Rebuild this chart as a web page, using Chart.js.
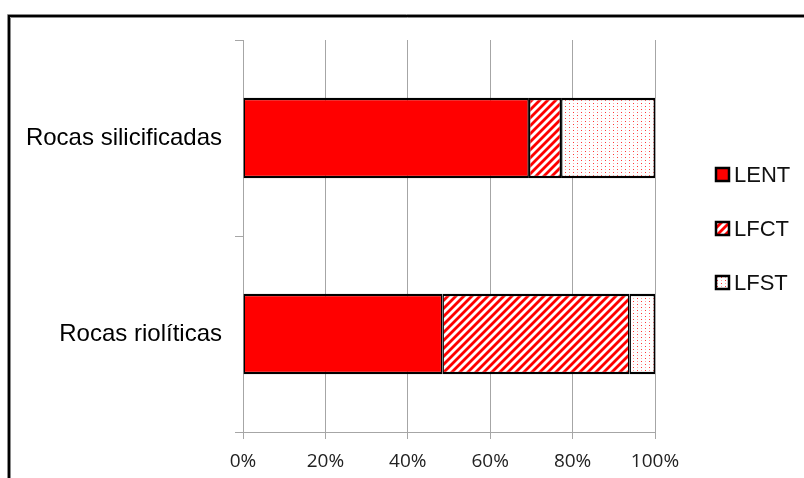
<!DOCTYPE html>
<html lang="es">
<head>
<meta charset="UTF-8">
<title>Rocas</title>
<script src="https://cdn.jsdelivr.net/npm/chart.js"></script>
<style>
  body { margin: 0; background: #fff; }
  canvas { display: block; }
</style>
</head>
<body>
<canvas id="chart" width="804" height="478"></canvas>
<script>
// data (percent of each rock type)
const categories = ['Rocas silicificadas', 'Rocas riolíticas'];
const seriesNames = ['LENT', 'LFCT', 'LFST'];
const lent = [69.4, 48.4];
const lfct = [7.8, 45.4];
const lfst = [22.8, 6.2];
const xTicks = [0, 20, 40, 60, 80, 100];

// hatch fills
function stripePattern() {
    const c = document.createElement('canvas');
    c.width = 8; c.height = 8;
    const g = c.getContext('2d');
    g.fillStyle = '#fff';
    g.fillRect(0, 0, 8, 8);
    g.strokeStyle = '#ff0000';
    g.lineWidth = 2.8;
    [[-4, 4, 4, -4], [0, 8, 8, 0], [4, 12, 12, 4]].forEach(l => {
        g.beginPath(); g.moveTo(l[0], l[1]); g.lineTo(l[2], l[3]); g.stroke();
    });
    return g.createPattern(c, 'repeat');
}
function dotPattern() {
    const c = document.createElement('canvas');
    c.width = 8; c.height = 6;
    const g = c.getContext('2d');
    g.fillStyle = '#fff';
    g.fillRect(0, 0, 8, 6);
    g.fillStyle = 'rgba(255,0,0,0.8)';
    g.fillRect(1, 1, 1, 1);
    g.fillRect(5, 4, 1, 1);
    g.fillStyle = 'rgba(255,60,60,0.45)';
    g.fillRect(5, 1, 1, 1);
    g.fillRect(1, 4, 1, 1);
    return g.createPattern(c, 'repeat');
}

const fills = ['#ff0000', stripePattern(), dotPattern()];
const values = [lent, lfct, lfst];
const barBorder = { top: 2.5, bottom: 2.5, left: 1.5, right: 1.5 };

const frame = {
    id: 'frame',
    beforeDraw(chart) {
        const ctx = chart.ctx;
        ctx.save();
        ctx.fillStyle = '#fff';
        ctx.fillRect(0, 0, chart.width, chart.height);
        ctx.strokeStyle = '#8a8a8a';
        ctx.lineWidth = 1;
        ctx.beginPath();
        ctx.moveTo(7.5, 490); ctx.lineTo(7.5, 14.5); ctx.lineTo(820, 14.5);
        ctx.moveTo(10.5, 490); ctx.lineTo(10.5, 17.5); ctx.lineTo(820, 17.5);
        ctx.stroke();
        ctx.strokeStyle = '#000';
        ctx.lineWidth = 2;
        ctx.beginPath();
        ctx.moveTo(9, 490); ctx.lineTo(9, 16); ctx.lineTo(820, 16);
        ctx.stroke();
        ctx.restore();
    }
};

const sideLegend = {
    id: 'sideLegend',
    afterDraw(chart) {
        const ctx = chart.ctx;
        ctx.save();
        ctx.font = '22px "Liberation Sans", Arial, sans-serif';
        ctx.textBaseline = 'middle';
        chart.data.datasets.forEach((ds, i) => {
            const y = 175 + i * 54;
            ctx.fillStyle = ds.backgroundColor;
            ctx.fillRect(716, y - 7, 13, 13);
            ctx.strokeStyle = '#000';
            ctx.lineWidth = 2.5;
            ctx.strokeRect(716, y - 7, 13, 13);
            ctx.fillStyle = '#111';
            ctx.fillText(ds.label, 734, y + 1);
        });
        ctx.restore();
    }
};

new Chart(document.getElementById('chart'), {
    type: 'bar',
    data: {
        labels: categories,
        datasets: seriesNames.map((name, i) => ({
            label: name,
            data: values[i],
            backgroundColor: fills[i],
            borderColor: '#000',
            borderWidth: barBorder,
            borderSkipped: false,
            barPercentage: 0.41,
            categoryPercentage: 1
        }))
    },
    options: {
        indexAxis: 'y',
        responsive: false,
        animation: false,
        devicePixelRatio: 1,
        layout: { padding: { left: 0, right: 149, top: 40, bottom: 0 } },
        plugins: { legend: { display: false }, tooltip: { enabled: false } },
        scales: {
            x: {
                stacked: true,
                min: 0,
                max: 100,
                afterFit(scale) { scale.height = 46; },
                afterBuildTicks(scale) { scale.ticks = xTicks.map(v => ({ value: v })); },
                grid: { color: '#a6a6a6', tickLength: 7 },
                border: { color: '#a6a6a6' },
                ticks: {
                    color: '#222',
                    padding: 11,
                    font: { family: '"Open Sans", sans-serif', size: 19 },
                    callback: v => v + '%'
                }
            },
            y: {
                stacked: true,
                afterFit(scale) { scale.width = 243; },
                grid: { drawOnChartArea: false, color: '#a6a6a6', tickLength: 8 },
                border: { color: '#a6a6a6' },
                ticks: {
                    color: '#000',
                    padding: 13,
                    font: { family: '"Liberation Sans", Arial, sans-serif', size: 24 }
                }
            }
        }
    },
    plugins: [frame, sideLegend]
});
</script>
</body>
</html>
